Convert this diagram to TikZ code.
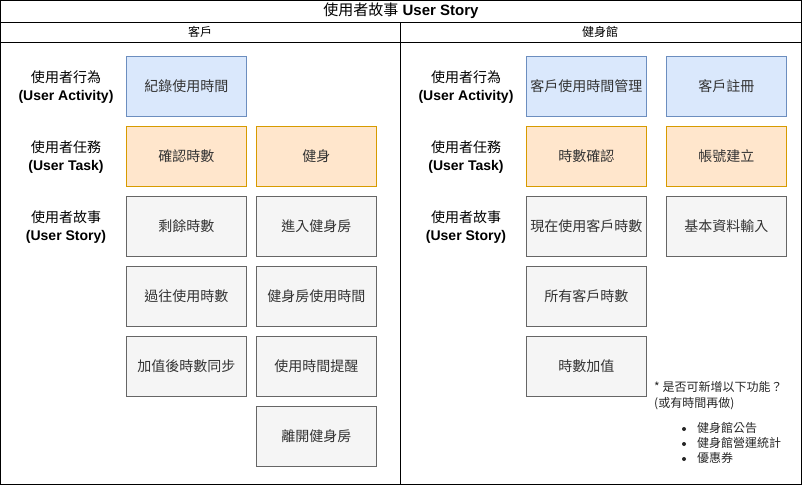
\documentclass[tikz,border=0pt]{standalone}
\usepackage{fontspec}
\setmainfont{Liberation Sans}
\newfontfamily\cjk{Noto Sans CJK TC}
\definecolor{bluefill}{HTML}{DAE8FC}
\definecolor{bluedraw}{HTML}{6C8EBF}
\definecolor{orangefill}{HTML}{FFE6CC}
\definecolor{orangedraw}{HTML}{D79B00}
\definecolor{greyfill}{HTML}{F5F5F5}
\definecolor{greydraw}{HTML}{666666}
\definecolor{greytext}{HTML}{333333}
\tikzset{
  x=1pt, y=-1pt,
  card/.style={minimum width=120pt, minimum height=60pt, inner sep=0pt, line width=0.9pt, font=\fontsize{14}{16}\selectfont\cjk, anchor=north west, text=greytext},
  actbox/.style={card, fill=bluefill, draw=bluedraw},
  taskbox/.style={card, fill=orangefill, draw=orangedraw},
  storybox/.style={card, fill=greyfill, draw=greydraw},
  rowlabel/.style={align=center, font=\fontsize{14}{18}\selectfont, inner sep=0pt},
  frame/.style={line width=1pt, draw=black},
  notetext/.style={font=\fontsize{12}{14}\selectfont\cjk, anchor=west, inner sep=0pt, text=black!85},
  bulletmark/.style={circle, fill=black!85, inner sep=0pt, minimum size=4pt}
}
\begin{document}
\begin{tikzpicture}
\useasboundingbox (0,0) rectangle (802,485);
% frame
\draw[frame] (0.5,0.5) rectangle (801.5,484.5);
\draw[frame] (0.5,22) -- (801.5,22);
\draw[frame] (0.5,42) -- (801.5,42);
\draw[frame] (400.5,22) -- (400.5,484.5);
\node[font=\fontsize{15}{17}\selectfont] (title) at (401,11) {{\cjk 使用者故事} \textbf{User Story}};
\node[font=\fontsize{12}{14}\selectfont\cjk] (hleft) at (200,32) {客戶};
\node[font=\fontsize{12}{14}\selectfont\cjk] (hright) at (600,32) {健身館};
% left labels
\node[rowlabel] (la) at (66,87) {{\cjk 使用者行為}\\\textbf{(User Activity)}};
\node[rowlabel] (lt) at (66,157) {{\cjk 使用者任務}\\\textbf{(User Task)}};
\node[rowlabel] (ls) at (66,227) {{\cjk 使用者故事}\\\textbf{(User Story)}};
% right labels
\node[rowlabel] (ra) at (466,87) {{\cjk 使用者行為}\\\textbf{(User Activity)}};
\node[rowlabel] (rt) at (466,157) {{\cjk 使用者任務}\\\textbf{(User Task)}};
\node[rowlabel] (rs) at (466,227) {{\cjk 使用者故事}\\\textbf{(User Story)}};
% left boxes
\node[actbox] (a1) at (126,56) {紀錄使用時間};
\node[taskbox] (t1) at (126,126) {確認時數};
\node[taskbox] (t2) at (256,126) {健身};
\node[storybox] (s1) at (126,196) {剩餘時數};
\node[storybox] (s2) at (126,266) {過往使用時數};
\node[storybox] (s3) at (126,336) {加值後時數同步};
\node[storybox] (s4) at (256,196) {進入健身房};
\node[storybox] (s5) at (256,266) {健身房使用時間};
\node[storybox] (s6) at (256,336) {使用時間提醒};
\node[storybox] (s7) at (256,406) {離開健身房};
% right boxes
\node[actbox] (ra1) at (526,56) {客戶使用時間管理};
\node[actbox] (ra2) at (666,56) {客戶註冊};
\node[taskbox] (rt1) at (526,126) {時數確認};
\node[taskbox] (rt2) at (666,126) {帳號建立};
\node[storybox] (rs1) at (526,196) {現在使用客戶時數};
\node[storybox] (rs2) at (526,266) {所有客戶時數};
\node[storybox] (rs3) at (526,336) {時數加值};
\node[storybox] (rs4) at (666,196) {基本資料輸入};
% note
\node[notetext] (n1) at (654,387) {* 是否可新增以下功能？};
\node[notetext] (n2) at (654,404) {(或有時間再做)};
\node[notetext] (b1) at (697,428) {健身館公告};
\node[notetext] (b2) at (697,443) {健身館營運統計};
\node[notetext] (b3) at (697,458) {優惠券};
\node[bulletmark] (d1) at (684,429) {};
\node[bulletmark] (d2) at (684,444) {};
\node[bulletmark] (d3) at (684,459) {};
\end{tikzpicture}
\end{document}
